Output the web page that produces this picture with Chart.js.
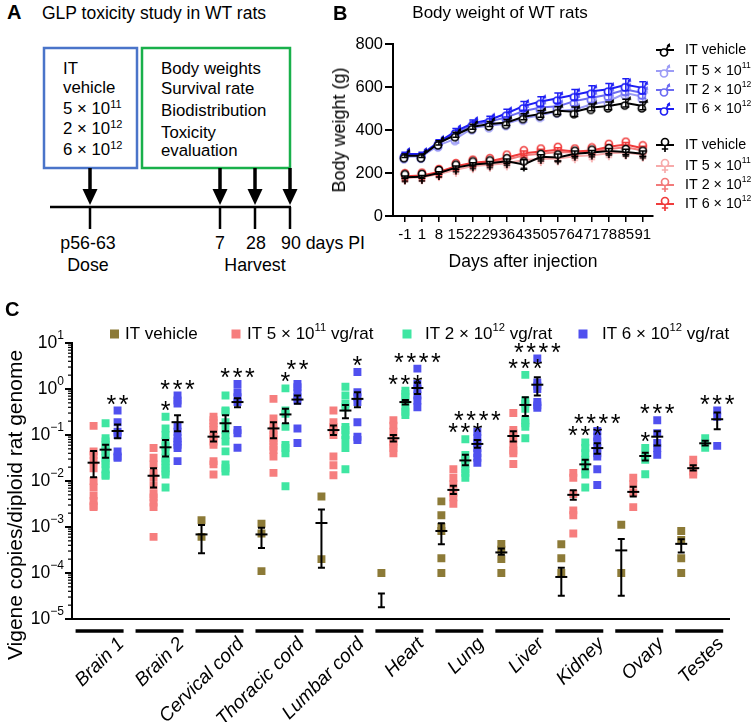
<!DOCTYPE html>
<html><head><meta charset="utf-8">
<script src="https://cdn.jsdelivr.net/npm/chart.js@4.4.1/dist/chart.umd.min.js"></script>
<style>
html,body{margin:0;padding:0;background:#fff;}
#wrap{position:relative;width:751px;height:722px;overflow:hidden;font-family:"Liberation Sans",Arial,sans-serif;color:#000;background:#fff;}
.abs{position:absolute;white-space:nowrap;line-height:1;}
.rot{position:absolute;white-space:nowrap;line-height:1;transform:translate(-50%,-50%) rotate(-90deg);}
canvas{position:absolute;}
</style></head><body>
<div id="wrap">
<svg width="380" height="290" style="position:absolute;left:0;top:0" font-family="Liberation Sans, Arial, sans-serif">
  <text x="7" y="19" font-size="20" font-weight="bold">A</text>
  <text x="42" y="19" font-size="17.5">GLP toxicity study in WT rats</text>
  <rect x="44" y="48" width="93" height="120" fill="none" stroke="#4a74c9" stroke-width="2.5"/>
  <rect x="142" y="48" width="148" height="120" fill="none" stroke="#19b04b" stroke-width="2.5"/>
  <g font-size="16.8">
    <text x="63" y="74">IT</text>
    <text x="63" y="93">vehicle</text>
    <text x="63" y="114">5 × 10<tspan dy="-6" font-size="11">11</tspan></text>
    <text x="63" y="134">2 × 10<tspan dy="-6" font-size="11">12</tspan></text>
    <text x="63" y="155">6 × 10<tspan dy="-6" font-size="11">12</tspan></text>
    <text x="161" y="74">Body weights</text>
    <text x="161" y="94">Survival rate</text>
    <text x="161" y="116">Biodistribution</text>
    <text x="161" y="138">Toxicity</text>
    <text x="161" y="156">evaluation</text>
  </g>
  <g stroke="#000" stroke-width="3.5">
    <line x1="90" y1="168" x2="90" y2="192"/>
    <line x1="220" y1="168" x2="220" y2="192"/>
    <line x1="255" y1="168" x2="255" y2="192"/>
    <line x1="290" y1="168" x2="290" y2="192"/>
  </g>
  <g fill="#000">
    <polygon points="82.5,189 97.5,189 90,205"/>
    <polygon points="212.5,189 227.5,189 220,205"/>
    <polygon points="247.5,189 262.5,189 255,205"/>
    <polygon points="282.5,189 297.5,189 290,205"/>
  </g>
  <g stroke="#000" stroke-width="2.5">
    <line x1="50" y1="207" x2="291" y2="207"/>
    <line x1="90" y1="207" x2="90" y2="229"/>
    <line x1="220" y1="207" x2="220" y2="229"/>
    <line x1="255" y1="207" x2="255" y2="229"/>
    <line x1="290" y1="207" x2="290" y2="229"/>
  </g>
  <g font-size="17.8">
    <text x="88" y="249" text-anchor="middle">p56-63</text>
    <text x="88" y="271" text-anchor="middle">Dose</text>
    <text x="220" y="249" text-anchor="middle">7</text>
    <text x="256" y="249" text-anchor="middle">28</text>
    <text x="281" y="249">90 days PI</text>
    <text x="255" y="271" text-anchor="middle">Harvest</text>
  </g>
</svg>
<canvas id="chartB" width="451" height="290" style="left:300px;top:0"></canvas>
<div class="abs" style="left:333px;top:3px;font-size:20px;font-weight:bold">B</div>
<div class="abs" style="left:500px;top:12px;transform:translate(-50%,-50%);font-size:17px">Body weight of WT rats</div>
<div class="rot" style="left:339px;top:130px;font-size:18px">Body weight (g)</div>
<div class="abs" style="left:523px;top:262px;transform:translate(-50%,-50%);font-size:17.5px">Days after injection</div>
<canvas id="chartC" width="751" height="432" style="left:0;top:290px"></canvas>
<div class="abs" style="left:5px;top:299px;font-size:20px;font-weight:bold">C</div>
<div class="rot" style="left:14px;top:505px;font-size:21px">Vigene copies/diploid rat genome</div>
</div>
<script>
const FF = '"Liberation Sans", Arial, Helvetica, sans-serif';

// ---------------- Panel B data ----------------
const bDays = ['-1','1','8','15','22','29','36','43','50','57','64','71','78','85','91'];
const bMaleVehicle   = [280, 280, 340, 378, 415, 428, 435, 462, 475, 490, 485, 505, 512, 525, 512];
const bMale5e11      = [275, 278, 330, 360, 410, 420, 430, 455, 468, 488, 495, 520, 535, 572, 555];
const bMale2e12      = [282, 282, 338, 385, 425, 440, 460, 488, 505, 510, 535, 550, 565, 588, 572];
const bMale6e12      = [288, 288, 345, 395, 432, 448, 478, 512, 533, 548, 564, 580, 590, 610, 596];
const bMaleVehicleSem = [8, 8, 10, 12, 12, 12, 14, 14, 16, 18, 22, 16, 18, 18, 18];
const bMale5e11Sem    = [10, 10, 12, 20, 15, 15, 18, 18, 20, 20, 22, 22, 25, 25, 25];
const bMale2e12Sem    = [8, 8, 10, 12, 14, 14, 16, 18, 20, 20, 22, 22, 24, 25, 25];
const bMale6e12Sem    = [8, 8, 10, 12, 14, 16, 18, 20, 22, 24, 24, 26, 26, 28, 28];
const bFemaleVehicle = [180, 182, 200, 225, 240, 245, 255, 240, 275, 272, 290, 295, 302, 298, 290];
const bFemale5e11    = [178, 180, 195, 215, 232, 238, 245, 260, 265, 268, 278, 282, 292, 295, 285];
const bFemale2e12    = [182, 184, 200, 228, 245, 250, 262, 282, 290, 298, 295, 300, 312, 320, 305];
const bFemale6e12    = [185, 188, 205, 232, 248, 255, 272, 292, 300, 308, 300, 305, 322, 332, 315];
const bFemaleVehicleSem = [6, 6, 6, 8, 8, 8, 10, 22, 10, 16, 12, 10, 12, 12, 12];
const bFemale5e11Sem    = [6, 6, 7, 8, 8, 8, 9, 10, 10, 10, 10, 10, 10, 10, 10];
const bFemale2e12Sem    = [6, 6, 7, 8, 8, 8, 9, 10, 10, 10, 10, 10, 10, 10, 10];
const bFemale6e12Sem    = [6, 6, 7, 8, 8, 8, 9, 10, 10, 10, 10, 10, 10, 10, 10];
const bSeriesNames = ['IT vehicle', 'IT 5 × 10|11', 'IT 2 × 10|12', 'IT 6 × 10|12'];

// ---------------- Panel C data ----------------
const cCategories = ['Brain 1','Brain 2','Cervical cord','Thoracic cord','Lumbar cord','Heart','Lung','Liver','Kidney','Ovary','Testes'];
const cGroupNames = ['IT vehicle', 'IT 5 × 10|11| vg/rat', 'IT 2 × 10|12| vg/rat', 'IT 6 × 10|12| vg/rat'];
const cVehicle = [[], [], [0.0014, 0.00061], [0.00118, 0.00072, 0.00011], [0.0046, 0.0002], [0.0001],
  [0.0036, 0.0018, 0.001, 0.00082, 0.00021, 0.0001], [0.00043, 0.00032, 0.0002, 0.0001],
  [0.00042, 0.00021, 0.0001], [0.00112, 0.0001], [0.00082, 0.00052, 0.00021, 0.0001]];
const c5e11 = [[0.158, 0.044, 0.037, 0.027, 0.019, 0.01, 0.0072, 0.0048, 0.0037, 0.0029, 0.0027],
  [0.052, 0.032, 0.023, 0.015, 0.0118, 0.0079, 0.0052, 0.0044, 0.0034, 0.0027, 0.00061],
  [0.25, 0.21, 0.18, 0.15, 0.128, 0.092, 0.072, 0.061, 0.027, 0.023, 0.0139],
  [0.61, 0.23, 0.16, 0.128, 0.1, 0.085, 0.072, 0.056, 0.047, 0.034, 0.015],
  [0.34, 0.19, 0.15, 0.128, 0.1, 0.034, 0.022, 0.0133],
  [0.21, 0.16, 0.118, 0.085, 0.072, 0.061, 0.052, 0.04],
  [0.018, 0.0118, 0.0085, 0.0056, 0.0044, 0.0032],
  [0.3, 0.128, 0.109, 0.085, 0.061, 0.046, 0.04, 0.0235],
  [0.015, 0.0118, 0.0052, 0.0023, 0.0018, 0.00072],
  [0.0118, 0.0085, 0.0056, 0.0027],
  [0.029, 0.021, 0.016, 0.0139]];
const c2e12 = [[0.18, 0.085, 0.072, 0.061, 0.052, 0.044, 0.037, 0.032, 0.027, 0.023, 0.018, 0.0139, 0.013],
  [0.25, 0.139, 0.1, 0.072, 0.056, 0.044, 0.032, 0.027, 0.023, 0.019, 0.016, 0.0139, 0.0072],
  [0.72, 0.34, 0.32, 0.19, 0.128, 0.1, 0.072, 0.044, 0.023, 0.019, 0.016],
  [1.03, 0.34, 0.29, 0.15, 0.061, 0.052, 0.04, 0.0077],
  [1.12, 0.72, 0.48, 0.4, 0.15, 0.128, 0.1, 0.078, 0.052, 0.018],
  [0.92, 0.78, 0.66, 0.52, 0.4, 0.32, 0.27],
  [0.081, 0.037, 0.029, 0.023, 0.018, 0.015, 0.0118],
  [2.03, 0.56, 0.48, 0.37, 0.21, 0.18, 0.15, 0.085],
  [0.069, 0.052, 0.04, 0.029, 0.025, 0.018, 0.0139, 0.0072],
  [0.052, 0.034, 0.029, 0.014],
  [0.085, 0.067, 0.053]];
const c6e12 = [[0.34, 0.19, 0.118, 0.1, 0.044, 0.034, 0.032],
  [0.72, 0.56, 0.48, 0.16, 0.118, 0.085, 0.072, 0.061, 0.052, 0.027],
  [1.28, 0.85, 0.66, 0.52, 0.128, 0.109, 0.053],
  [1.28, 1.09, 0.85, 0.66, 0.56, 0.139, 0.067],
  [2.35, 0.85, 0.66, 0.52, 0.19, 0.092, 0.078],
  [2.77, 1.28, 1.0, 0.72, 0.56, 0.4],
  [0.118, 0.085, 0.067, 0.052, 0.04, 0.032, 0.025],
  [4.6, 1.39, 1.18, 1.0, 0.52, 0.44, 0.39],
  [0.122, 0.092, 0.072, 0.052, 0.04, 0.034, 0.018, 0.0082],
  [0.21, 0.109, 0.067, 0.052, 0.037],
  [0.34, 0.25, 0.058]];
// mean and SEM range per category
const cVehicleMean = [null, null, 0.00069, 0.00069, 0.00122, null, 0.00082, 0.00028, 0.000082, 0.00031, 0.00043];
const cVehicleLo   = [null, null, 0.00027, 0.00035, 0.00013, 0.000018, 0.00042, 0.00025, 0.000032, 0.000032, 0.00028];
const cVehicleHi   = [null, null, 0.0011, 0.00096, 0.0024, 0.000036, 0.0012, 0.00034, 0.00013, 0.00055, 0.00054];
const c5e11Mean = [0.025, 0.013, 0.092, 0.139, 0.128, 0.085, 0.0064, 0.095, 0.005, 0.0058, 0.019];
const c5e11Lo   = [0.012, 0.0072, 0.072, 0.085, 0.1, 0.072, 0.0052, 0.072, 0.0039, 0.0046, 0.017];
const c5e11Hi   = [0.045, 0.019, 0.118, 0.19, 0.16, 0.1, 0.0079, 0.12, 0.0063, 0.0075, 0.022];
const c2e12Mean = [0.048, 0.054, 0.18, 0.28, 0.34, 0.52, 0.028, 0.45, 0.023, 0.035, 0.066];
const c2e12Lo   = [0.032, 0.034, 0.12, 0.18, 0.23, 0.46, 0.022, 0.26, 0.018, 0.028, 0.059];
const c2e12Hi   = [0.061, 0.078, 0.27, 0.37, 0.45, 0.58, 0.037, 0.66, 0.029, 0.041, 0.075];
const c6e12Mean = [0.122, 0.19, 0.52, 0.59, 0.61, 1.05, 0.064, 1.24, 0.052, 0.092, 0.22];
const c6e12Lo   = [0.085, 0.12, 0.40, 0.48, 0.40, 0.78, 0.053, 0.72, 0.039, 0.059, 0.134];
const c6e12Hi   = [0.17, 0.27, 0.63, 0.72, 0.85, 1.39, 0.078, 1.8, 0.066, 0.12, 0.31];
const cVehicleStars = ['', '', '', '', '', '', '', '', '', '', ''];
const c5e11Stars = ['', '', '', '', '', '', '', '', '', '', ''];
const c2e12Stars = ['', '*', '', '*', '', '***', '***', '***', '***', '*', ''];
const c6e12Stars = ['**', '***', '***', '**', '*', '****', '****', '****', '****', '***', '***'];
const cYTickExps = [1, 0, -1, -2, -3, -4, -5];

// ---------------- helpers ----------------
function drawRich(ctx, text, x, y, size, align, supRatio) {
  const sr = supRatio || 0.66;
  const parts = text.split('|');
  const segs = parts.map((t, i) => ({ t, sup: i % 2 === 1 }));
  let total = 0;
  segs.forEach(s => { ctx.font = (s.sup ? size * sr : size) + 'px ' + FF; s.w = ctx.measureText(s.t).width; total += s.w; });
  let cx = align === 'right' ? x - total : (align === 'center' ? x - total / 2 : x);
  ctx.textAlign = 'left'; ctx.textBaseline = 'middle';
  segs.forEach(s => {
    ctx.font = (s.sup ? size * sr : size) + 'px ' + FF;
    ctx.fillText(s.t, cx, s.sup ? y - size * 0.38 : y);
    cx += s.w;
  });
}
function makeMale(color) {
  const c = document.createElement('canvas'); c.width = 14; c.height = 16;
  const x = c.getContext('2d');
  x.strokeStyle = color; x.fillStyle = '#fff'; x.lineWidth = 1.7;
  x.beginPath(); x.arc(6, 10.5, 3.5, 0, Math.PI * 2); x.fill(); x.stroke();
  x.beginPath(); x.moveTo(8.3, 7.6); x.lineTo(11, 2.5); x.stroke();
  x.fillStyle = color;
  x.beginPath(); x.moveTo(11.8, 1); x.lineTo(12.3, 5.2); x.lineTo(8.6, 3.4); x.closePath(); x.fill();
  return c;
}
function makeFemale(color) {
  const c = document.createElement('canvas'); c.width = 14; c.height = 16;
  const x = c.getContext('2d');
  x.strokeStyle = color; x.fillStyle = '#fff'; x.lineWidth = 1.7;
  x.beginPath(); x.arc(7, 5, 3.5, 0, Math.PI * 2); x.fill(); x.stroke();
  x.beginPath(); x.moveTo(7, 8.5); x.lineTo(7, 15); x.moveTo(3.8, 12); x.lineTo(10.2, 12); x.stroke();
  return c;
}

// ---------------- Panel B ----------------
const maleColors = ['#000000', '#9c9cf6', '#6b6bf2', '#1d1df4'];
const femaleColors = ['#000000', '#f7aaaa', '#f27a7a', '#f03c3c'];
const bMaleSeries = [bMaleVehicle, bMale5e11, bMale2e12, bMale6e12];
const bMaleSems = [bMaleVehicleSem, bMale5e11Sem, bMale2e12Sem, bMale6e12Sem];
const bFemaleSeries = [bFemaleVehicle, bFemale5e11, bFemale2e12, bFemale6e12];
const bFemaleSems = [bFemaleVehicleSem, bFemale5e11Sem, bFemale2e12Sem, bFemale6e12Sem];
const bDatasets = [];
const bLegend = [];
[[bMaleSeries, bMaleSems, maleColors, makeMale], [bFemaleSeries, bFemaleSems, femaleColors, makeFemale]].forEach(([series, sems, colors, mk], sex) => {
  series.forEach((vals, i) => {
    const img = mk(colors[i]);
    bDatasets.push({
      label: bSeriesNames[i],
      data: vals.map((v, j) => ({ x: j, y: v })),
      sem: sems[i],
      borderColor: colors[i], backgroundColor: colors[i],
      borderWidth: 2, pointStyle: img, pointRadius: 6, pointHoverRadius: 6,
      order: i === 0 ? 0 : 10 - i, showLine: true, tension: 0
    });
    bLegend.push({ name: bSeriesNames[i], color: colors[i], img, sex });
  });
});
const bPlugin = {
  id: 'bextra',
  afterDatasetDraw(chart, args) {
    const ds = chart.data.datasets[args.index];
    const ctx = chart.ctx, ys = chart.scales.y, xs = chart.scales.x;
    ctx.save(); ctx.strokeStyle = ds.borderColor; ctx.lineWidth = 1.5;
    ds.data.forEach((p, j) => {
      const x = xs.getPixelForValue(p.x), y1 = ys.getPixelForValue(p.y + ds.sem[j]), y0 = ys.getPixelForValue(p.y - ds.sem[j]);
      ctx.beginPath(); ctx.moveTo(x, y0); ctx.lineTo(x, y1);
      ctx.moveTo(x - 3.5, y1); ctx.lineTo(x + 3.5, y1);
      ctx.moveTo(x - 3.5, y0); ctx.lineTo(x + 3.5, y0); ctx.stroke();
    });
    ctx.restore();
  },
  afterDraw(chart) {
    const ctx = chart.ctx;
    const rowsY = [50, 71, 90, 109, 145, 166, 185, 204];
    ctx.save();
    bLegend.forEach((e, k) => {
      const y = rowsY[k];
      ctx.strokeStyle = e.color; ctx.lineWidth = 2;
      ctx.beginPath(); ctx.moveTo(356, y); ctx.lineTo(374, y); ctx.stroke();
      ctx.drawImage(e.img, 365 - 7, y - 8);
      ctx.fillStyle = '#000';
      drawRich(ctx, e.name, 385, y, 14.3, 'left', 0.6);
    });
    ctx.restore();
  }
};
new Chart(document.getElementById('chartB'), {
  type: 'scatter',
  data: { datasets: bDatasets },
  options: {
    responsive: false, animation: false, events: [],
    layout: { padding: { left: 0, right: 98, top: 44, bottom: 0 } },
    plugins: { legend: { display: false }, tooltip: { enabled: false } },
    scales: {
      x: {
        type: 'linear', min: -0.7, max: 14.6,
        afterBuildTicks: s => { s.ticks = bDays.map((d, i) => ({ value: i })); },
        ticks: { callback: (v, i) => bDays[i], autoSkip: false, maxRotation: 0, minRotation: 0, color: '#000', font: { size: 15, family: FF }, padding: 4 },
        grid: { drawOnChartArea: false, color: '#000', lineWidth: 1.5, tickLength: 6 },
        border: { display: true, color: '#000', width: 2 },
        afterFit: s => { s.height = 74; }
      },
      y: {
        type: 'linear', min: 0, max: 800,
        ticks: { stepSize: 200, color: '#000', font: { size: 16.5, family: FF }, padding: 2 },
        grid: { drawOnChartArea: false, color: '#000', lineWidth: 2, tickLength: 8 },
        border: { display: true, color: '#000', width: 2 },
        afterFit: s => { s.width = 93; }
      }
    }
  },
  plugins: [bPlugin]
});

// ---------------- Panel C ----------------
const cColors = ['#8c7a37', '#f67e7e', '#3fe6a2', '#5050ef'];
const cOffsets = [-0.3, -0.1, 0.1, 0.3];
const cGroups = [
  { pts: cVehicle, mean: cVehicleMean, lo: cVehicleLo, hi: cVehicleHi, stars: cVehicleStars },
  { pts: c5e11, mean: c5e11Mean, lo: c5e11Lo, hi: c5e11Hi, stars: c5e11Stars },
  { pts: c2e12, mean: c2e12Mean, lo: c2e12Lo, hi: c2e12Hi, stars: c2e12Stars },
  { pts: c6e12, mean: c6e12Mean, lo: c6e12Lo, hi: c6e12Hi, stars: c6e12Stars }
];
const cDatasets = cGroups.map((g, gi) => ({
  label: cGroupNames[gi],
  data: g.pts.flatMap((arr, ci) => arr.map(v => ({ x: ci + cOffsets[gi], y: v }))),
  pointStyle: 'rect', pointRadius: 5.6, pointHoverRadius: 5.6, pointBorderWidth: 0, borderWidth: 0,
  backgroundColor: cColors[gi]
}));
const cPlugin = {
  id: 'cextra',
  afterDatasetsDraw(chart) {
    const ctx = chart.ctx, xs = chart.scales.x, ys = chart.scales.y, area = chart.chartArea;
    ctx.save();
    // error bars
    ctx.strokeStyle = '#000'; ctx.lineWidth = 2;
    cGroups.forEach((g, gi) => {
      cCategories.forEach((c, ci) => {
        const x = xs.getPixelForValue(ci + cOffsets[gi]);
        if (g.lo[ci] != null) {
          const y0 = ys.getPixelForValue(g.lo[ci]), y1 = ys.getPixelForValue(g.hi[ci]);
          ctx.beginPath(); ctx.moveTo(x, y0); ctx.lineTo(x, y1);
          ctx.moveTo(x - 3.5, y0); ctx.lineTo(x + 3.5, y0);
          ctx.moveTo(x - 3.5, y1); ctx.lineTo(x + 3.5, y1); ctx.stroke();
        }
        if (g.mean[ci] != null) {
          const ym = ys.getPixelForValue(g.mean[ci]);
          ctx.beginPath(); ctx.moveTo(x - 6, ym); ctx.lineTo(x + 6, ym); ctx.stroke();
        }
      });
    });
    // stars
    ctx.fillStyle = '#000';
    ctx.font = '25px ' + FF; ctx.textAlign = 'center'; ctx.textBaseline = 'alphabetic';
    const mm = ctx.measureText('*');
    const starShift = (mm.actualBoundingBoxAscent - mm.actualBoundingBoxDescent) / 2;
    const prevStarY = {};
    cGroups.forEach((g, gi) => {
      cCategories.forEach((c, ci) => {
        const s = g.stars[ci];
        if (!s) return;
        const x = xs.getPixelForValue(ci + cOffsets[gi]);
        let y = ys.getPixelForValue(Math.max(...g.pts[ci])) - 11;
        if (prevStarY[ci] != null) y = Math.min(y, prevStarY[ci] - 12);
        prevStarY[ci] = y;
        const n = s.length;
        for (let k = 0; k < n; k++) ctx.fillText('*', x + (k - (n - 1) / 2) * 12.3, y + starShift);
      });
    });
    // category underline bars
    ctx.strokeStyle = '#000'; ctx.lineWidth = 3.5;
    cCategories.forEach((c, ci) => {
      const x = xs.getPixelForValue(ci);
      ctx.beginPath(); ctx.moveTo(x - 24, area.bottom + 12); ctx.lineTo(x + 24, area.bottom + 12); ctx.stroke();
    });
    // minor ticks
    ctx.lineWidth = 1.2;
    for (let k = -5; k < 1; k++) {
      for (let m = 2; m <= 9; m++) {
        const y = ys.getPixelForValue(m * Math.pow(10, k));
        ctx.beginPath(); ctx.moveTo(area.left - 4, y); ctx.lineTo(area.left, y); ctx.stroke();
      }
    }
    // y tick labels with superscripts
    ctx.fillStyle = '#000';
    cYTickExps.forEach(e => {
      const y = ys.getPixelForValue(Math.pow(10, e));
      const es = e < 0 ? '\u2212' + (-e) : String(e);
      ctx.font = '12px ' + FF; const we = ctx.measureText(es).width;
      ctx.font = '17.5px ' + FF; ctx.textAlign = 'right'; ctx.textBaseline = 'middle';
      const right = area.left - 8;
      ctx.fillText('10', right - we, y);
      ctx.font = '12px ' + FF; ctx.textAlign = 'left';
      ctx.fillText(es, right - we, y - 7);
    });
    // legend
    const lx = [[114.5, 125], [236, 247], [407, 425], [583, 602]];
    const ly = 44;
    cGroupNames.forEach((n, gi) => {
      ctx.fillStyle = cColors[gi];
      ctx.fillRect(lx[gi][0] - 4.5, ly - 4.5, 9, 9);
      ctx.fillStyle = '#000';
      drawRich(ctx, n, lx[gi][1], ly, 17, 'left');
    });
    ctx.restore();
  }
};
const cLabelShift = 0.36;
new Chart(document.getElementById('chartC'), {
  type: 'scatter',
  data: { datasets: cDatasets },
  options: {
    responsive: false, animation: false, events: [],
    layout: { padding: { left: 0, right: 3, top: 53, bottom: 0 } },
    plugins: { legend: { display: false }, tooltip: { enabled: false } },
    scales: {
      x: {
        type: 'linear', min: -0.46, max: 10.5,
        afterBuildTicks: s => { s.ticks = cCategories.map((c, i) => ({ value: i + cLabelShift })); },
        ticks: { callback: (v, i) => cCategories[i], autoSkip: false, maxRotation: 45, minRotation: 45, color: '#000', font: { size: 19, style: 'italic', family: FF }, padding: 14 },
        grid: { display: false, drawTicks: false },
        border: { display: true, color: '#000', width: 2 },
        afterFit: s => { s.height = 103; }
      },
      y: {
        type: 'logarithmic', min: 1e-5, max: 10,
        afterBuildTicks: s => { s.ticks = cYTickExps.map(e => ({ value: Math.pow(10, e), major: true })); },
        ticks: { display: false },
        grid: { drawOnChartArea: false, color: '#000', lineWidth: 2, tickLength: 7 },
        border: { display: true, color: '#000', width: 2 },
        afterFit: s => { s.width = 72; }
      }
    }
  },
  plugins: [cPlugin]
});
</script>
</body></html>
